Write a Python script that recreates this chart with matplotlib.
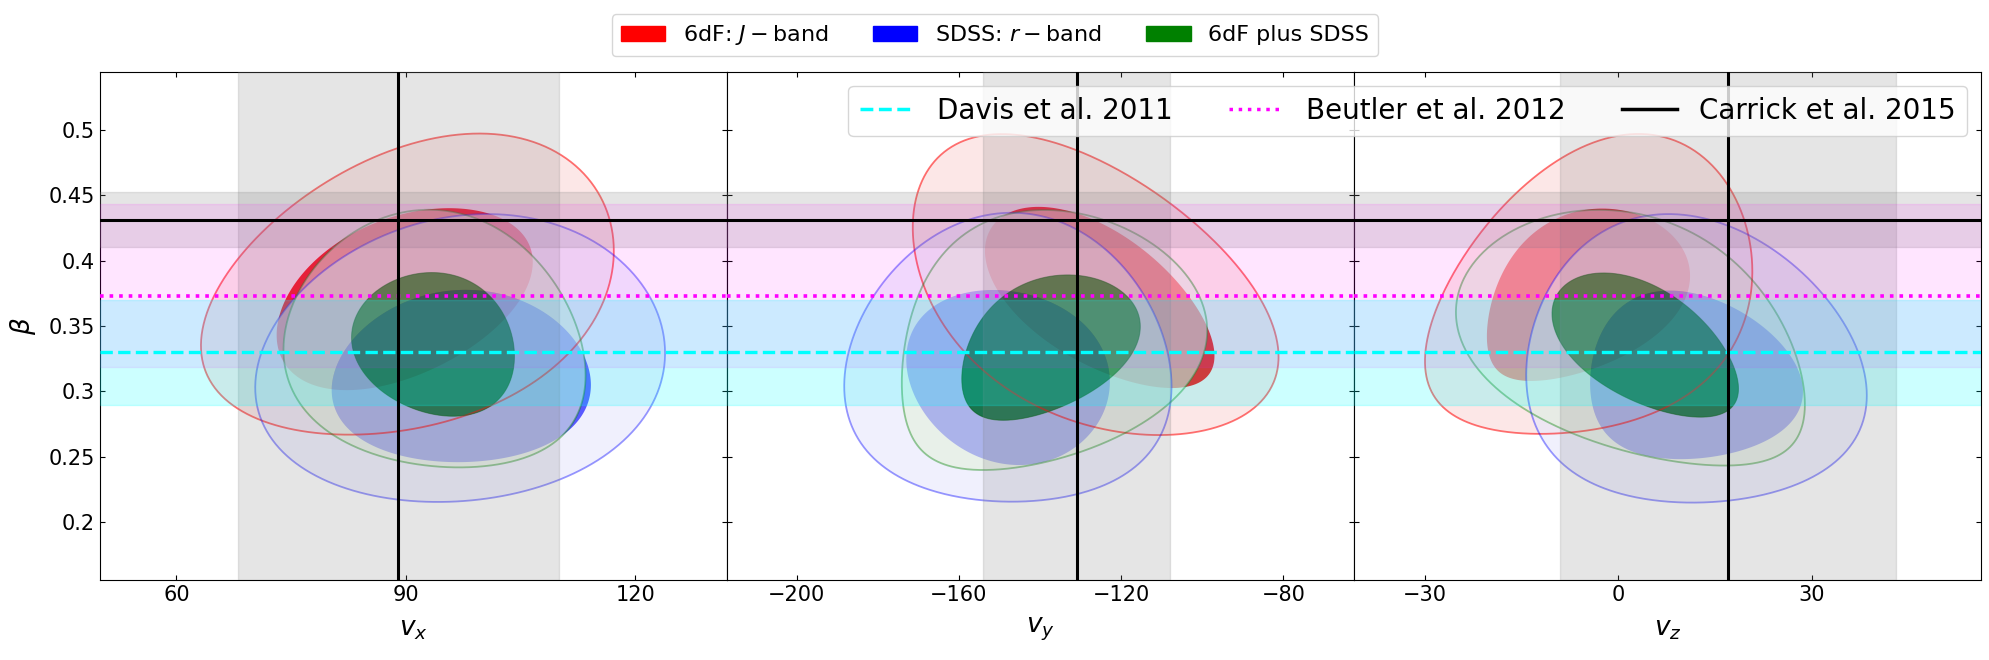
import numpy as np
import matplotlib
matplotlib.use("Agg")
import matplotlib.pyplot as plt
from matplotlib.path import Path
from matplotlib.patches import PathPatch, Patch
from matplotlib.lines import Line2D

# ---------------- axes ----------------
xlabels = [r"$v_x$", r"$v_y$", r"$v_z$"]
xlims = [(50.0, 132.0), (-217.2, -62.6), (-41.0, 56.2)]
xticks = [[60, 90, 120], [-200, -160, -120, -80], [-30, 0, 30]]
ylim = (0.156, 0.544)
yticks = [0.2, 0.25, 0.3, 0.35, 0.4, 0.45, 0.5]
yticklabels = ["0.2", "0.25", "0.3", "0.35", "0.4", "0.45", "0.5"]

# ---------------- literature values ----------------
carrick_v = [89, -131, 17]
carrick_v_err = [21, 23, 26]
carrick_beta = 0.431
carrick_beta_err = 0.021
davis_beta = 0.33
davis_beta_err = 0.04
beutler_beta = 0.373
beutler_err_lo = 0.054
beutler_err_hi = 0.070

# ---------------- contours ----------------
# per panel: (centre v, centre beta, min v, max v, min beta, max beta, tilt)
sixdf_2sigma = [(91.2, 0.370, 63.2, 117.2, 0.267, 0.497, 0.315),
                (-130.9, 0.3745, -171.4, -81.2, 0.2667, 0.4966, -0.43),
                (-4.5, 0.355, -30.0, 20.75, 0.2676, 0.4967, 0.30)]
sixdf_1sigma = [(88.8, 0.371, 73.1, 106.6, 0.301, 0.440, 0.40),
                (-123.3, 0.365, -153.6, -97.0, 0.3026, 0.441, -0.58),
                (-8.5, 0.364, -20.4, 11.1, 0.308, 0.4397, 0.35)]
sdss_2sigma = [(97.4, 0.316, 70.3, 123.9, 0.2156, 0.4355, 0.12),
               (-147.0, 0.304, -188.3, -107.6, 0.2158, 0.4365, 0.0),
               (9.6, 0.3046, -14.3, 38.5, 0.2151, 0.4355, -0.07)]
sdss_1sigma = [(97.3, 0.303, 80.3, 114.2, 0.246, 0.3776, 0.03),
               (-148.4, 0.316, -173.0, -122.8, 0.2438, 0.3775, -0.13),
               (8.8, 0.303, -4.4, 28.6, 0.2483, 0.377, -0.05)]
combined_2sigma = [(95.0, 0.322, 74.0, 113.5, 0.242, 0.4388, -0.10),
                   (-146.9, 0.326, -174.1, -98.8, 0.240, 0.4386, 0.20),
                   (7.4, 0.323, -25.2, 28.9, 0.2434, 0.4387, -0.36)]
combined_1sigma = [(94.8, 0.334, 82.9, 104.2, 0.2811, 0.3908, -0.13),
                   (-141.7, 0.329, -159.3, -115.3, 0.278, 0.389, 0.36),
                   (5.6, 0.329, -10.3, 18.6, 0.2804, 0.3905, -0.52)]

legend_labels = ["6dF: $J-$band", "SDSS: $r-$band", "6dF plus SDSS"]

styles = [
    dict(ring=(250/255, 215/255, 215/255), ring_a=0.6, core="red", core_a=0.95,
         line="red", line_a=0.55, core_line=None),
    dict(ring=(230/255, 230/255, 252/255), ring_a=0.6, core="blue", core_a=0.65,
         line="blue", line_a=0.4, core_line=None),
    dict(ring=(227/255, 240/255, 221/255), ring_a=0.6, core="green", core_a=0.7,
         line="green", line_a=0.4, core_line="darkgreen"),
]
contour_sets = [(sixdf_2sigma, sixdf_1sigma), (sdss_2sigma, sdss_1sigma),
                (combined_2sigma, combined_1sigma)]


def shape_xy(c, n=500):
    """Smooth egg-shaped contour with given centre, extents and tilt."""
    cx, cy, x0, x1, y0, y1, rho = c
    t = np.linspace(0, 2 * np.pi, n)
    u = np.cos(t)
    v = rho * u + np.sqrt(1 - rho ** 2) * np.sin(t)
    sl, sr = cx - x0, x1 - cx
    sd, su = cy - y0, y1 - cy
    x = cx + 0.5 * (sr + sl) * u + 0.5 * (sr - sl) * u ** 2
    y = cy + 0.5 * (su + sd) * v + 0.5 * (su - sd) * v ** 2
    return np.column_stack([x, y])


def closed_path(c):
    v = shape_xy(c)
    codes = [Path.MOVETO] + [Path.LINETO] * (len(v) - 1)
    return Path(v, codes)


def ring_path(outer, inner):
    o = shape_xy(outer)
    i = shape_xy(inner)[::-1]
    verts = np.concatenate([o, i])
    codes = ([Path.MOVETO] + [Path.LINETO] * (len(o) - 1) +
             [Path.MOVETO] + [Path.LINETO] * (len(i) - 1))
    return Path(verts, codes)


fig = plt.figure(figsize=(19.9, 6.6), dpi=100)
gs = fig.add_gridspec(1, 3, left=100 / 1990, right=1981 / 1990,
                      top=1 - 72 / 660, bottom=1 - 580 / 660, wspace=0)
axes = []
for k in range(3):
    ax = fig.add_subplot(gs[0, k], sharey=axes[0] if axes else None)
    axes.append(ax)

for k, ax in enumerate(axes):
    # contours
    for (s2, s1), st in zip(contour_sets, styles):
        ax.add_patch(PathPatch(ring_path(s2[k], s1[k]), facecolor=st["ring"],
                               alpha=st["ring_a"], edgecolor="none", zorder=1))
        ax.add_patch(PathPatch(closed_path(s1[k]), facecolor=st["core"],
                               alpha=st["core_a"], edgecolor="none", zorder=1))
    for (s2, s1), st in zip(contour_sets, styles):
        ax.add_patch(PathPatch(closed_path(s2[k]), facecolor="none",
                               edgecolor=st["line"], alpha=st["line_a"],
                               lw=1.3, zorder=2))
        if st["core_line"]:
            ax.add_patch(PathPatch(closed_path(s1[k]), facecolor="none",
                                   edgecolor=st["core_line"], alpha=0.5,
                                   lw=0.8, zorder=2))
    # bands
    ax.axvspan(carrick_v[k] - carrick_v_err[k], carrick_v[k] + carrick_v_err[k],
               color="gray", alpha=0.2, zorder=3)
    ax.axhspan(carrick_beta - carrick_beta_err, carrick_beta + carrick_beta_err,
               color="gray", alpha=0.2, zorder=3)
    ax.axhspan(beutler_beta - beutler_err_lo, beutler_beta + beutler_err_hi,
               color="magenta", alpha=0.1, zorder=3)
    ax.axhspan(davis_beta - davis_beta_err, davis_beta + davis_beta_err,
               color="cyan", alpha=0.2, zorder=3)
    # lines
    ax.axhline(davis_beta, color="cyan", ls="--", lw=2.4, zorder=4)
    ax.axhline(beutler_beta, color="magenta", ls=":", lw=2.6, zorder=4)
    ax.axhline(carrick_beta, color="black", ls="-", lw=2.2, zorder=4)
    ax.axvline(carrick_v[k], color="black", ls="-", lw=2.2, zorder=4)

    ax.set_xlim(*xlims[k])
    ax.set_xticks(xticks[k])
    ax.set_xlabel(xlabels[k], fontsize=19, labelpad=8)
    ax.tick_params(direction="in", top=True, right=True, labelsize=15)

axes[0].set_ylim(*ylim)
axes[0].set_yticks(yticks)
axes[0].set_yticklabels(yticklabels)
axes[0].set_ylabel(r"$\beta$", fontsize=19, labelpad=8)
for ax in axes[1:]:
    ax.tick_params(labelleft=False)

top_handles = [Patch(color="red"), Patch(color="blue"), Patch(color="green")]
fig.legend(top_handles, legend_labels, loc="upper center", ncol=3, fontsize=16,
           bbox_to_anchor=(0.5, 0.995))

ref_handles = [Line2D([], [], color="cyan", ls="--", lw=2.5),
               Line2D([], [], color="magenta", ls=":", lw=2.5),
               Line2D([], [], color="black", ls="-", lw=2.5)]
leg = axes[2].legend(ref_handles, ["Davis et al. 2011", "Beutler et al. 2012",
                                   "Carrick et al. 2015"],
                     loc="upper right", ncol=3, fontsize=20)
leg.set_zorder(10)

fig.savefig("out.png", dpi=100)
